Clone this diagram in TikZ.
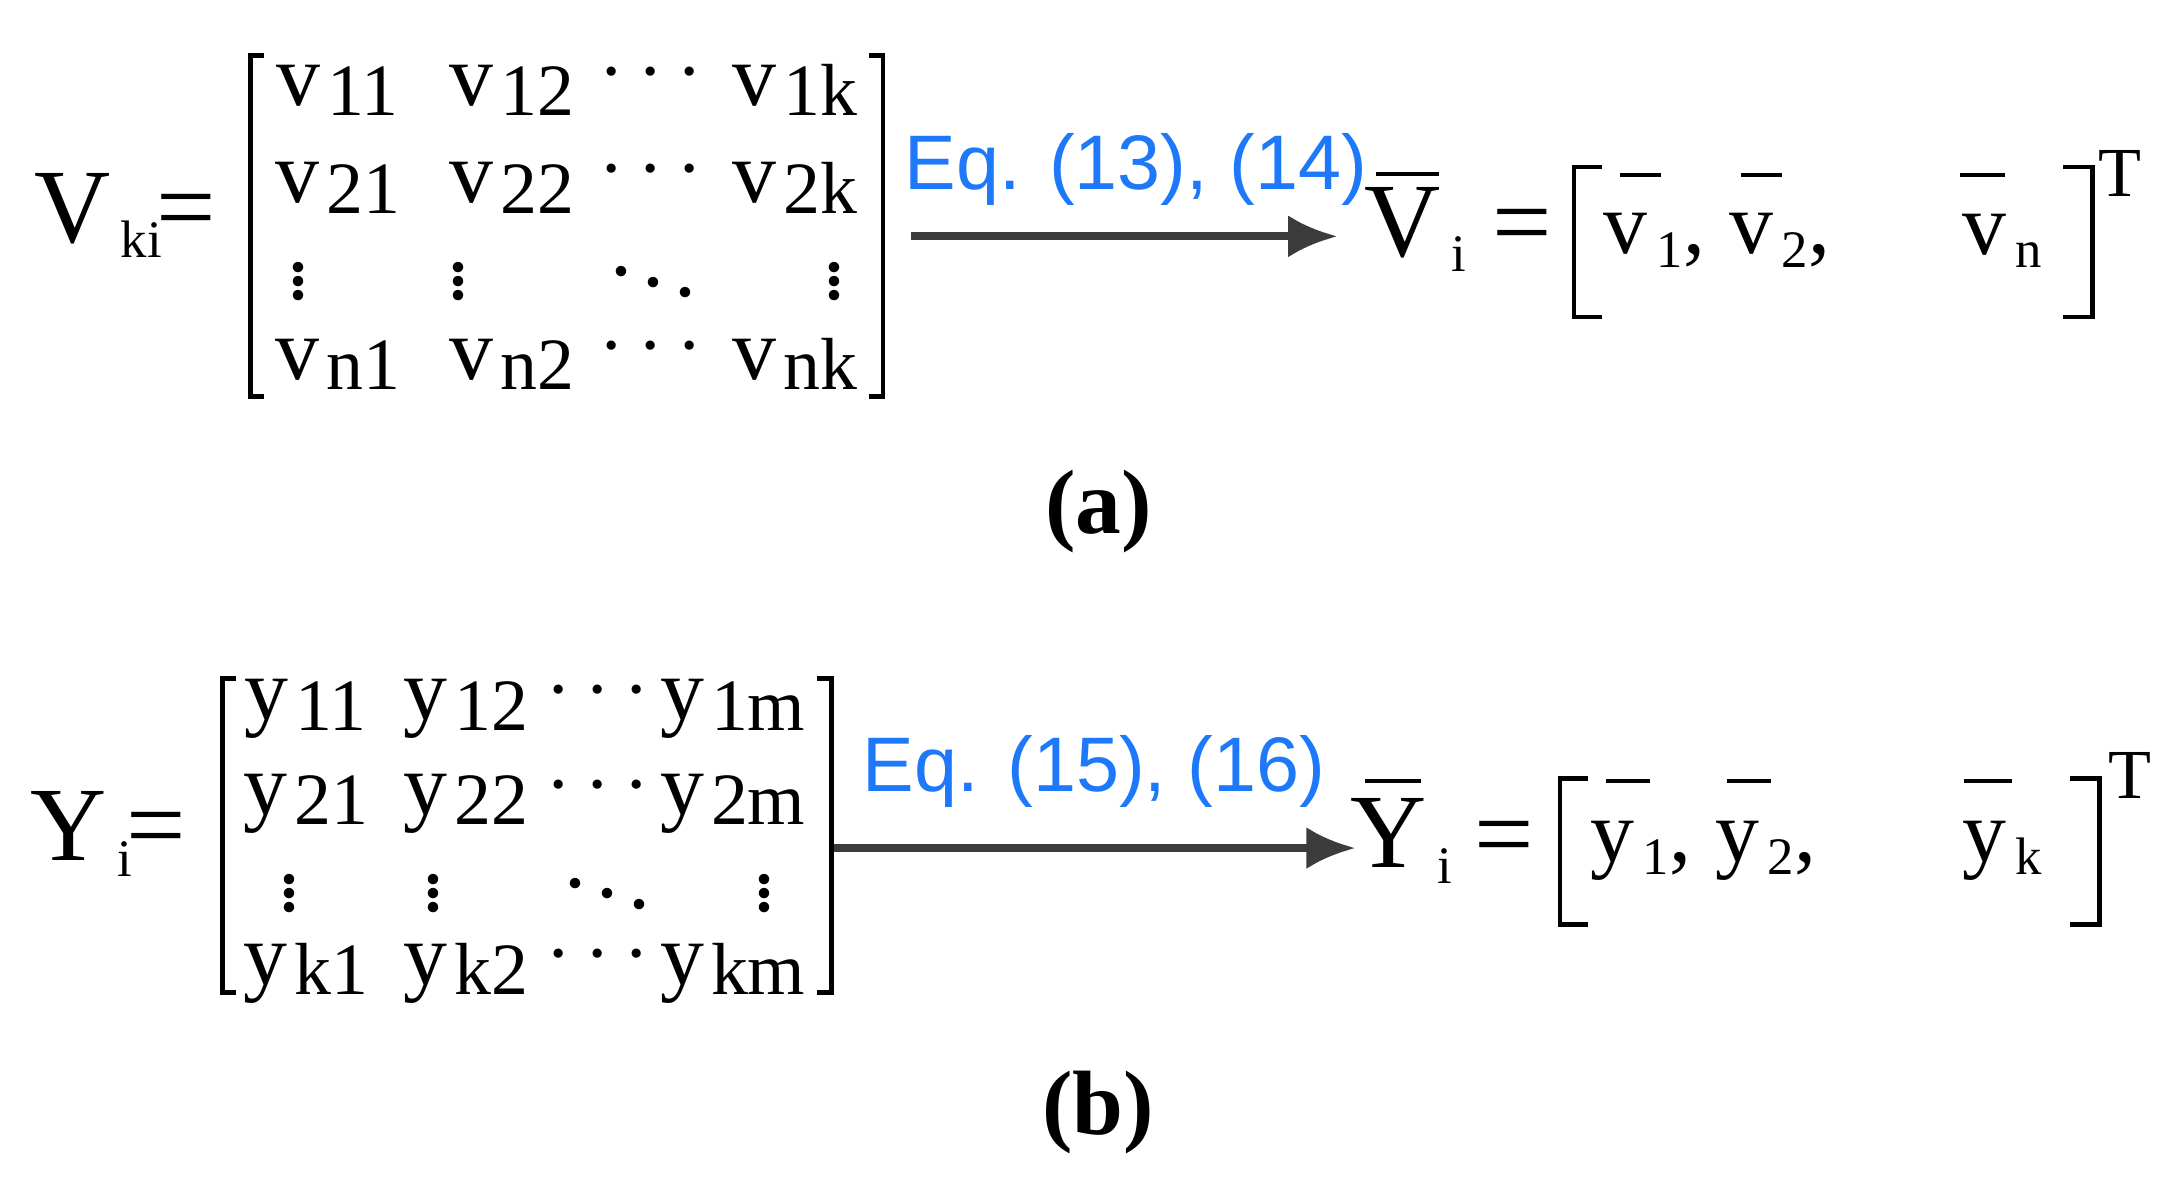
\documentclass[tikz,border=0pt]{standalone}
\usepackage{fontspec}
\setmainfont{Liberation Serif}
\newfontfamily\eqfont{Liberation Sans}
\usetikzlibrary{arrows.meta}
\definecolor{eqblue}{RGB}{30,120,250}
\definecolor{arr}{RGB}{60,60,60}
\newcommand{\ent}[2]{#1\kern0.08em\raisebox{-0.12em}{\fontsize{21}{24}\selectfont #2}}
\newcommand{\sub}[2]{#1\kern0.1em\raisebox{-0.15em}{\fontsize{15}{18}\selectfont #2}}
\tikzset{
  mtx/.style={font=\fontsize{25}{28}\selectfont, inner sep=0pt},
  big/.style={font=\fontsize{30}{34}\selectfont, inner sep=0pt},
  eqlab/.style={font=\eqfont\fontsize{22}{26}\selectfont, text=eqblue, inner sep=0pt},
  conn/.style={draw=arr, line width=2.2pt, -{Latex[length=14pt,width=12pt]}},
  brk/.style={draw=black, line width=1.3pt},
  bar/.style={draw=black, line width=1.1pt},
  captxt/.style={font=\fontsize{26}{30}\selectfont\bfseries, inner sep=0pt}
}
\begin{document}
\begin{tikzpicture}[x=0.0139cm,y=-0.0139cm]
\useasboundingbox (0,0) rectangle (1563,848);
% ---- (a)
\node[big] (Vki) at (90,155) {\sub{V}{ki}\kern-0.05em=};
\draw[brk] (190,40) -- (180,40) -- (180,285) -- (190,285);
\draw[brk] (625,40) -- (635,40) -- (635,285) -- (625,285);
\foreach \r/\y/\rr in {1/65/1,2/135/2,4/262/n}{
  \node[mtx] (a\r1) at (243,\y) {\ent{v}{\rr1}};
  \node[mtx] (a\r2) at (368,\y) {\ent{v}{\rr2}};
  \node[mtx] (a\r3) at (468,\y-12) {$\cdots$};
  \node[mtx] (a\r4) at (572,\y) {\ent{v}{\rr k}};
}
\node[mtx] (a31) at (215,195) {$\vdots$};
\node[mtx] (a32) at (330,195) {$\vdots$};
\node[mtx] (a33) at (470,195) {$\ddots$};
\node[mtx] (a34) at (600,195) {$\vdots$};
\coordinate (as) at (655,170);
\coordinate (ae) at (962,170);
\draw[conn] (as) -- (ae);
\node[eqlab] (la) at (817,122) {Eq. (13), (14)};
\node[big] (Vi) at (1018,165) {\sub{V}{i}};
\draw[bar] (990,125) -- (1035,125);
\node[big] (eqa) at (1095,168) {=};
\draw[brk] (1152,120) -- (1132,120) -- (1132,228) -- (1152,228);
\draw[brk] (1484,120) -- (1505,120) -- (1505,228) -- (1484,228);
\node[mtx] (v1) at (1190,173) {\sub{v}{1},};
\node[mtx] (v2) at (1280,173) {\sub{v}{2},};
\draw[bar] (1165,126) -- (1195,126);
\draw[bar] (1252,126) -- (1282,126);
\node[mtx] (vn) at (1440,173) {\sub{v}{n}};
\draw[bar] (1410,126) -- (1442,126);
\node[font=\fontsize{20}{22}\selectfont,inner sep=0pt] (Ta) at (1525,125) {T};
\node[captxt] (capa) at (790,368) {(a)};
% ---- (b)
\node[big] (Yi) at (78,600) {\sub{Y}{i}\kern-0.05em=};
\draw[brk] (170,488) -- (160,488) -- (160,714) -- (170,714);
\draw[brk] (588,488) -- (598,488) -- (598,714) -- (588,714);
\foreach \r/\y/\rr/\cc in {1/510/1/1m,2/578/2/2m,4/700/k/km}{
  \node[mtx] (b\r1) at (220,\y) {\ent{y}{\rr1}};
  \node[mtx] (b\r2) at (335,\y) {\ent{y}{\rr2}};
  \node[mtx] (b\r3) at (430,\y-12) {$\cdots$};
  \node[mtx] (b\r4) at (527,\y) {\ent{y}{\cc}};
}
\node[mtx] (b31) at (208,635) {$\vdots$};
\node[mtx] (b32) at (312,635) {$\vdots$};
\node[mtx] (b33) at (437,635) {$\ddots$};
\node[mtx] (b34) at (550,635) {$\vdots$};
\coordinate (bs) at (600,610);
\coordinate (be) at (975,610);
\draw[conn] (bs) -- (be);
\node[eqlab] (lb) at (787,555) {Eq. (15), (16)};
\node[big] (Ybi) at (1008,605) {\sub{Y}{i}};
\draw[bar] (982,562) -- (1022,562);
\node[big] (eqb) at (1082,608) {=};
\draw[brk] (1142,560) -- (1122,560) -- (1122,665) -- (1142,665);
\draw[brk] (1489,560) -- (1510,560) -- (1510,665) -- (1489,665);
\node[mtx] (y1) at (1180,612) {\sub{y}{1},};
\node[mtx] (y2) at (1270,612) {\sub{y}{2},};
\draw[bar] (1155,562) -- (1187,562);
\draw[bar] (1242,562) -- (1274,562);
\node[mtx] (yk) at (1440,612) {\sub{y}{k}};
\draw[bar] (1413,562) -- (1447,562);
\node[font=\fontsize{20}{22}\selectfont,inner sep=0pt] (Tb) at (1532,558) {T};
\node[captxt] (capb) at (790,800) {(b)};
\end{tikzpicture}
\end{document}
